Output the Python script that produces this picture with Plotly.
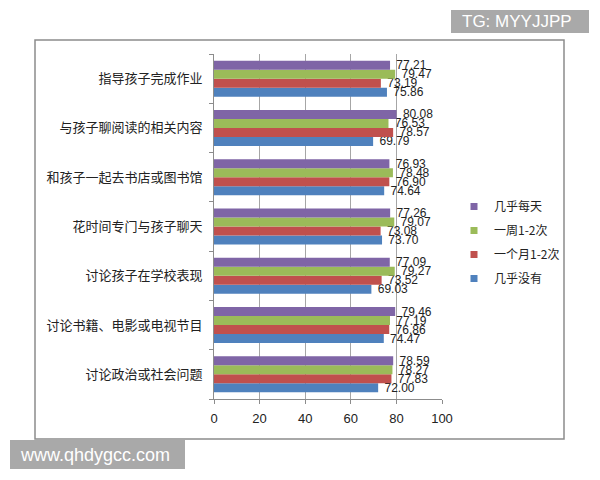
import plotly.graph_objects as go

# categories, top to bottom as in the picture
categories = [
    "指导孩子完成作业",
    "与孩子聊阅读的相关内容",
    "和孩子一起去书店或图书馆",
    "花时间专门与孩子聊天",
    "讨论孩子在学校表现",
    "讨论书籍、电影或电视节目",
    "讨论政治或社会问题",
]

series_names = ["几乎没有", "一个月1-2次", "一周1-2次", "几乎每天"]
never = [75.86, 69.79, 74.64, 73.70, 69.03, 74.47, 72.00]
monthly = [73.19, 78.57, 76.90, 73.08, 73.52, 76.86, 77.83]
weekly = [79.47, 76.53, 78.48, 79.07, 79.27, 77.19, 78.27]
daily = [77.21, 80.08, 76.93, 77.26, 77.09, 79.46, 78.59]

x_ticks = [0, 20, 40, 60, 80, 100]

colors = ["#4F81BD", "#C0504D", "#9BBB59", "#7F65A6"]

fig = go.Figure()
for i, (name, vals) in enumerate(zip(series_names, [never, monthly, weekly, daily])):
    fig.add_trace(go.Bar(
        y=categories,
        x=vals,
        name=name,
        orientation="h",
        marker=dict(color=colors[i], line=dict(width=0)),
        # leading no-break space gives the small gap seen after each bar
        text=["\u00a0%.2f" % v for v in vals],
        textposition="outside",
        constraintext="none",
        cliponaxis=False,
        textfont=dict(family="Liberation Sans, Arial", size=12, color="#222"),
        showlegend=False,
    ))

# small square legend keys, top to bottom like the original
for i in [3, 2, 1, 0]:
    fig.add_trace(go.Scatter(
        x=[None], y=[None], mode="markers", name=series_names[i],
        marker=dict(symbol="square", size=7, color=colors[i]),
        legendgroup=series_names[i],
    ))

# the page sits 8px in from the window corner (body margin); positions
# below are in window pixels and mapped onto the plot area (214..442, 54..399)
px_x = lambda p: (p - 214) / 228
px_y = lambda p: (399 - p) / 345

fig.update_layout(
    width=600,
    height=480,
    barmode="group",
    bargap=0.27,
    bargroupgap=0,
    plot_bgcolor="white",
    paper_bgcolor="white",
    margin=dict(l=206, r=166, t=46, b=89, pad=0),
    font=dict(family="Noto Sans CJK SC", size=13, color="#222"),
    legend=dict(
        x=px_x(454), y=px_y(192), xanchor="left", yanchor="top",
        traceorder="grouped", tracegroupgap=5,
        font=dict(family="Noto Sans CJK SC", size=12, color="#222"),
        bgcolor="rgba(0,0,0,0)",
        itemsizing="trace",
    ),
    xaxis=dict(
        range=[0, 100],
        tickvals=x_ticks,
        showgrid=True,
        gridcolor="#A6A6A6",
        gridwidth=1,
        zeroline=False,
        showline=True,
        linecolor="#8C8C8C",
        ticks="outside",
        ticklen=4,
        tickcolor="#8C8C8C",
        ticklabelstandoff=3,
        tickfont=dict(family="Liberation Sans, Arial", size=13, color="#222"),
    ),
    yaxis=dict(
        categoryorder="array",
        categoryarray=categories[::-1],
        showline=True,
        linecolor="#8C8C8C",
        ticks="outside",
        tickson="boundaries",
        ticklen=4,
        tickcolor="#8C8C8C",
        ticklabelstandoff=8,
        showgrid=False,
        tickfont=dict(family="Noto Sans CJK SC", size=13, color="#222"),
    ),
    shapes=[
        # outer chart border
        dict(type="rect", xref="paper", yref="paper", layer="below",
             x0=px_x(35), x1=px_x(564), y0=px_y(439), y1=px_y(40),
             line=dict(color="#8C8C8C", width=1.5), fillcolor="rgba(0,0,0,0)"),
        # watermark boxes
        dict(type="rect", xref="paper", yref="paper", layer="above",
             x0=px_x(451), x1=px_x(589), y0=px_y(33), y1=px_y(10),
             line=dict(width=0), fillcolor="#A9A9A9"),
        dict(type="rect", xref="paper", yref="paper", layer="above",
             x0=px_x(10), x1=px_x(185), y0=px_y(469), y1=px_y(440),
             line=dict(width=0), fillcolor="#A9A9A9"),
    ],
    annotations=[
        dict(text="TG: MYYJJPP", xref="paper", yref="paper",
             x=px_x(517), y=px_y(22), xanchor="center", yanchor="middle",
             showarrow=False,
             font=dict(family="Liberation Sans, Arial", size=17, color="white")),
        dict(text="www.qhdygcc.com", xref="paper", yref="paper",
             x=px_x(95), y=px_y(455), xanchor="center", yanchor="middle",
             showarrow=False,
             font=dict(family="Liberation Sans, Arial", size=18, color="white")),
    ],
)

fig.write_html("out.html")
